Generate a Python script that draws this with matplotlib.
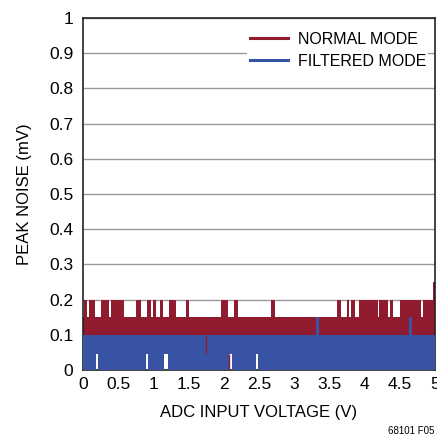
import numpy as np
import matplotlib.pyplot as plt
from matplotlib.lines import Line2D

plt.rcParams['font.family'] = ['Liberation Sans', 'DejaVu Sans']

RED = '#901a2e'
BLUE = '#3953a4'

# normal mode: noise band 0.10..0.15 mV, peaks (V)
normal_low = 0.10
normal_base = 0.15
normal_peak_start = [0.014, 0.085, 0.256, 0.398, 0.753, 0.909, 0.994, 1.094, 1.222, 1.463,
                     1.960, 2.145, 2.670, 3.610, 3.745, 3.815, 3.925, 4.210, 4.360, 4.503,
                     4.834, 4.976]
normal_peak_end = [0.053, 0.170, 0.369, 0.587, 0.824, 0.966, 1.037, 1.141, 1.321, 1.510,
                   2.055, 2.197, 2.727, 3.670, 3.780, 3.864, 4.195, 4.337, 4.408, 4.810,
                   4.976, 5.000]
normal_peak = [0.20] * 21 + [0.25]

# normal mode dips below the band
normal_dip_v = [1.754, 2.068]
normal_dip_low = [0.05, 0.0]
normal_dip_high = [0.10, 0.045]

# filtered mode: 0..0.10 mV, a couple of peaks to 0.15, some gaps near 0
filtered_base = 0.10
filtered_peak_start = [3.310, 4.630]
filtered_peak_end = [3.360, 4.680]
filtered_peak = [0.15, 0.15]
filtered_gap_start = [0.185, 0.895, 1.150, 2.074, 2.457]
filtered_gap_end = [0.213, 0.923, 1.203, 2.116, 2.486]
filtered_gap_floor = [0.045, 0.045, 0.045, 0.045, 0.045]

x_ticks = [0, 0.5, 1, 1.5, 2, 2.5, 3, 3.5, 4, 4.5, 5]
x_labels = ['0', '0.5', '1', '1.5', '2', '2.5', '3', '3.5', '4', '4.5', '5']
y_ticks = [0, 0.1, 0.2, 0.3, 0.4, 0.5, 0.6, 0.7, 0.8, 0.9, 1]
y_labels = ['0', '0.1', '0.2', '0.3', '0.4', '0.5', '0.6', '0.7', '0.8', '0.9', '1']


def stair_levels(edges, base, starts, ends, levels):
    # level of every step between edges
    mids = (edges[:-1] + edges[1:]) / 2
    vals = np.full(len(mids), base)
    for s, e, l in zip(starts, ends, levels):
        vals[(mids > s) & (mids < e)] = l
    return vals


fig = plt.figure(figsize=(4.37, 4.37), dpi=100)
ax = fig.add_axes([0.19, 0.153, 0.805, 0.806])

# normal mode
edges_n = np.array(sorted(set([0.0, 5.0] + normal_peak_start + normal_peak_end)))
top_n = stair_levels(edges_n, normal_base, normal_peak_start, normal_peak_end, normal_peak)
ax.stairs(top_n, edges_n, baseline=np.full(len(top_n), normal_low), fill=True,
          color=RED, lw=0, zorder=2)

# filtered mode
edges_f = np.array(sorted(set([0.0, 5.0] + filtered_peak_start + filtered_peak_end
                              + filtered_gap_start + filtered_gap_end)))
top_f = stair_levels(edges_f, filtered_base, filtered_peak_start, filtered_peak_end, filtered_peak)
bot_f = stair_levels(edges_f, 0.0, filtered_gap_start, filtered_gap_end, filtered_gap_floor)
ax.stairs(top_f, edges_f, baseline=bot_f, fill=True, color=BLUE, lw=0, zorder=3)

ax.vlines(normal_dip_v, normal_dip_low, normal_dip_high, color=RED, lw=1, zorder=4)

ax.set_xlim(0, 5)
ax.set_ylim(0, 1)
ax.set_xticks(x_ticks)
ax.set_xticklabels(x_labels)
ax.set_yticks(y_ticks)
ax.set_yticklabels(y_labels)
ax.tick_params(length=0, labelsize=12.5)
ax.tick_params(axis='y', pad=7)
ax.tick_params(axis='x', pad=5)
ax.yaxis.grid(True, color='#9a9a9a', lw=1)
ax.set_axisbelow(True)
for s in ax.spines.values():
    s.set_linewidth(1.2)
    s.set_color('#222222')

ax.set_xlabel('ADC INPUT VOLTAGE (V)', fontsize=12, labelpad=9)
ax.set_ylabel('PEAK NOISE (mV)', fontsize=12, labelpad=12)

handles = [Line2D([], [], color=RED, lw=2.2), Line2D([], [], color=BLUE, lw=2.2)]
leg = ax.legend(handles, ['NORMAL MODE', 'FILTERED MODE'], loc='upper right',
                bbox_to_anchor=(0.982, 0.968), fontsize=11.5, handlelength=2.4,
                handletextpad=0.6, borderpad=0.15, labelspacing=0.45,
                borderaxespad=0, frameon=True, fancybox=False)
leg.get_frame().set_facecolor('white')
leg.get_frame().set_edgecolor('none')
leg.get_frame().set_alpha(1)

fig.text(0.995, 0.003, '68101 F05', ha='right', va='bottom', fontsize=7)

fig.savefig('out.png', dpi=100)
